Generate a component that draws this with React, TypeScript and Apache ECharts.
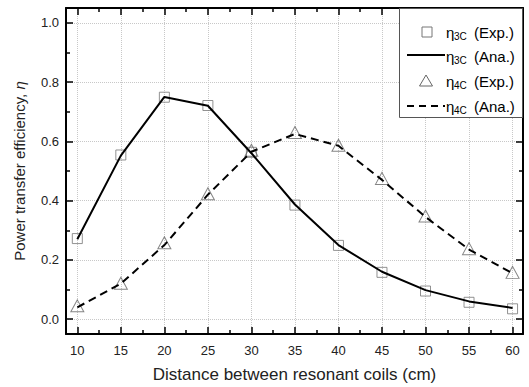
import React, { useEffect, useRef } from "react";
import * as echarts from "echarts";

const distances = [10, 15, 20, 25, 30, 35, 40, 45, 50, 55, 60];
const exp3C = [0.272, 0.554, 0.749, 0.721, 0.563, 0.385, 0.249, 0.158, 0.095, 0.057, 0.035];
const ana3C = [0.27, 0.552, 0.75, 0.72, 0.56, 0.387, 0.25, 0.16, 0.098, 0.06, 0.038];
const exp4C = [0.045, 0.121, 0.258, 0.423, 0.57, 0.63, 0.587, 0.475, 0.348, 0.238, 0.158];
const ana4C = [0.04, 0.12, 0.25, 0.42, 0.565, 0.625, 0.585, 0.47, 0.345, 0.235, 0.155];

const xMajor = [10, 15, 20, 25, 30, 35, 40, 45, 50, 55, 60];
const xMinor = [12.5, 17.5, 22.5, 27.5, 32.5, 37.5, 42.5, 47.5, 52.5, 57.5];
const yMajor = [0, 0.2, 0.4, 0.6, 0.8, 1.0];
const yMinor = [0.1, 0.3, 0.5, 0.7, 0.9];

const legendRows = [
  { sub: "3C", tail: "(Exp.)" },
  { sub: "3C", tail: "(Ana.)" },
  { sub: "4C", tail: "(Exp.)" },
  { sub: "4C", tail: "(Ana.)" },
];

const FONT = 'Arial, "Liberation Sans", sans-serif';
const X_MIN = 8.7;
const X_MAX = 61.2;
const Y_MIN = -0.05;
const Y_MAX = 1.05;

function pairs(ys: number[]) {
  return distances.map((x, i) => [x, ys[i]]);
}

function makeAxis(kind: "x" | "y", position: string, ticks: number[], len: number, main: boolean, labels: boolean) {
  const base: any = {
    type: "value",
    position,
    min: kind === "x" ? X_MIN : Y_MIN,
    max: kind === "x" ? X_MAX : Y_MAX,
    axisLine: { show: main, onZero: false, lineStyle: { color: "#000", width: 2 } },
    axisTick: {
      show: true,
      inside: true,
      length: len,
      customValues: ticks,
      lineStyle: { color: "#000", width: 1.5 },
    },
    axisLabel: labels
      ? {
          show: true,
          customValues: ticks,
          color: "#222",
          fontSize: 13,
          fontFamily: FONT,
          margin: kind === "x" ? 10 : 7,
          formatter: (v: number) => (kind === "x" ? String(v) : v.toFixed(1)),
        }
      : { show: false },
    splitLine: labels
      ? { show: true, lineStyle: { color: "#c8c8c8", type: "dotted", width: 1 } }
      : { show: false },
  };
  return base;
}

export default function App() {
  const ref = useRef<HTMLDivElement>(null);
  useEffect(() => {
    document.body.style.margin = "0";
    if (!ref.current) return;
    const chart = echarts.init(ref.current, null, { renderer: "svg" });
    const xAxes = [
      {
        ...makeAxis("x", "bottom", xMajor, 7, true, true),
        name: "Distance between resonant coils (cm)",
        nameLocation: "middle",
        nameGap: 32,
        nameTextStyle: { fontSize: 17, fontFamily: FONT, color: "#222" },
      },
      makeAxis("x", "bottom", xMinor, 4, false, false),
      makeAxis("x", "top", xMajor, 7, true, false),
      makeAxis("x", "top", xMinor, 4, false, false),
    ];
    const yAxes = [
      {
        ...makeAxis("y", "left", yMajor, 7, true, true),
        name: "Power transfer efficiency, {i|η}",
        nameLocation: "middle",
        nameGap: 39,
        nameTextStyle: {
          fontSize: 15,
          fontFamily: FONT,
          color: "#222",
          rich: { i: { fontStyle: "italic", fontSize: 15, fontFamily: FONT, color: "#222" } },
        },
      },
      makeAxis("y", "left", yMinor, 4, false, false),
      makeAxis("y", "right", yMajor, 7, true, false),
      makeAxis("y", "right", yMinor, 4, false, false),
    ];

    const lx = 399;
    const rowY = [32, 56, 81, 106];
    const graphics: any[] = [
      {
        type: "rect",
        shape: { x: lx + 0.5, y: 8.5, width: 123, height: 109 },
        style: { fill: "#fff", stroke: "#555", lineWidth: 1 },
        z: 100,
      },
      {
        type: "rect",
        shape: { x: 422, y: rowY[0] - 5, width: 10, height: 10 },
        style: { fill: "none", stroke: "#777", lineWidth: 1 },
        z: 101,
      },
      {
        type: "line",
        shape: { x1: 407, y1: rowY[1] - 1, x2: 445, y2: rowY[1] - 1 },
        style: { stroke: "#000", lineWidth: 2 },
        z: 101,
      },
      {
        type: "polygon",
        shape: { points: [[426, rowY[2] - 6], [432.5, rowY[2] + 5], [419.5, rowY[2] + 5]] },
        style: { fill: "none", stroke: "#666", lineWidth: 1 },
        z: 101,
      },
      {
        type: "line",
        shape: { x1: 407, y1: rowY[3], x2: 445, y2: rowY[3] },
        style: { stroke: "#000", lineWidth: 2, lineDash: [7, 5] },
        z: 101,
      },
    ];
    legendRows.forEach((r, i) => {
      const y = rowY[i];
      graphics.push(
        {
          type: "text",
          x: 446,
          y,
          style: { text: "η", fontSize: 15, fontFamily: FONT, fill: "#000", verticalAlign: "middle" },
          z: 102,
        },
        {
          type: "text",
          x: 454,
          y: y + 4,
          style: { text: r.sub, fontSize: 10, fontFamily: FONT, fill: "#000", verticalAlign: "middle" },
          z: 102,
        },
        {
          type: "text",
          x: 474,
          y,
          style: { text: r.tail, fontSize: 15, fontFamily: FONT, fill: "#000", verticalAlign: "middle" },
          z: 102,
        }
      );
    });

    chart.setOption({
      animation: false,
      backgroundColor: "#fff",
      grid: { left: 66, top: 8, right: 6, bottom: 53, containLabel: false, outerBoundsMode: "none" },
      xAxis: xAxes,
      yAxis: yAxes,
      series: [
        {
          name: "η3C (Exp.)",
          type: "scatter",
          data: pairs(exp3C),
          symbol: "rect",
          symbolSize: 10,
          itemStyle: { color: "rgba(0,0,0,0)", borderColor: "#777", borderWidth: 1 },
          z: 2,
        },
        {
          name: "η4C (Exp.)",
          type: "scatter",
          data: pairs(exp4C),
          symbol: "triangle",
          symbolSize: [13, 12],
          itemStyle: { color: "rgba(0,0,0,0)", borderColor: "#666", borderWidth: 1 },
          z: 2,
        },
        {
          name: "η3C (Ana.)",
          type: "line",
          data: pairs(ana3C),
          showSymbol: false,
          symbol: "none",
          lineStyle: { color: "#000", width: 2 },
          z: 3,
        },
        {
          name: "η4C (Ana.)",
          type: "line",
          data: pairs(ana4C),
          showSymbol: false,
          symbol: "none",
          lineStyle: { color: "#000", width: 2, type: [8, 5] },
          z: 3,
        },
      ],
      graphic: graphics,
    });
    return () => chart.dispose();
  }, []);
  return <div ref={ref} style={{ position: "absolute", left: 0, top: 0, width: 529, height: 387 }} />;
}
